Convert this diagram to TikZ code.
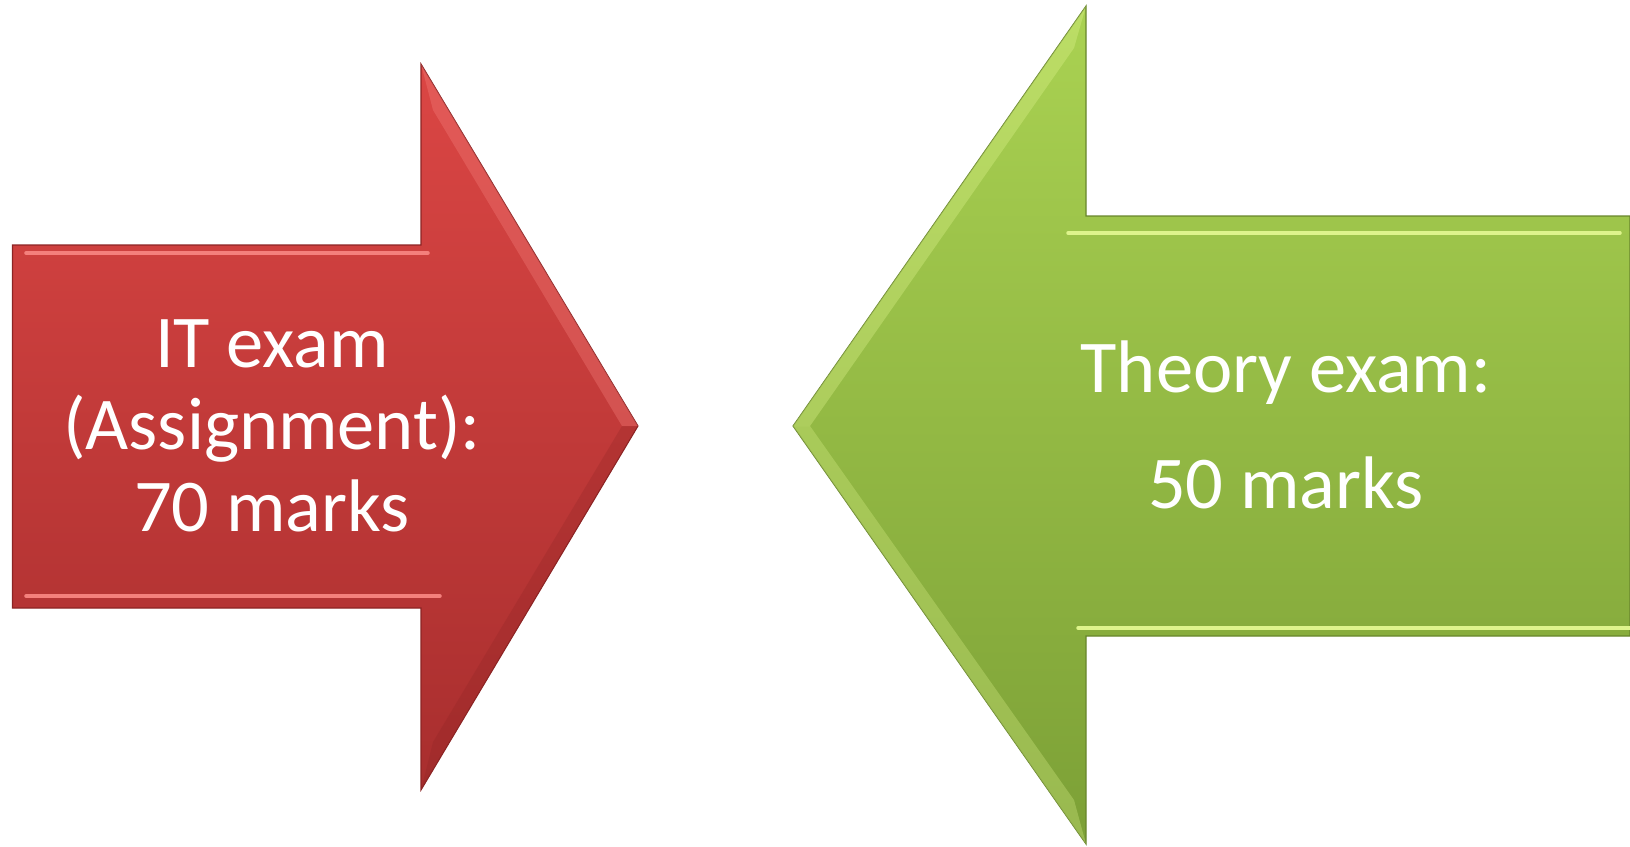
\documentclass[tikz,border=0pt]{standalone}
\usepackage{fontspec}
\setmainfont{Carlito}
\usepackage{tikz}
\usepackage{xcolor}
\definecolor{redtop}{RGB}{219,70,68}
\definecolor{redbot}{RGB}{168,46,46}
\definecolor{redline}{RGB}{140,36,36}
\definecolor{redhi}{RGB}{244,128,124}
\definecolor{greentop}{RGB}{170,210,82}
\definecolor{greenbot}{RGB}{124,160,54}
\definecolor{greenline}{RGB}{104,134,44}
\definecolor{greenhi}{RGB}{222,244,140}

\tikzset{
  label/.style={text=white, font=\fontsize{42.4}{46.7}\selectfont, align=center, inner sep=0pt},
  bevel/.style={line width=2pt, line cap=round}
}

\begin{document}
\begin{tikzpicture}[x=0.02cm, y=-0.02cm]
\useasboundingbox (0,0) rectangle (1630,846);

\def\redarrow{(12.5,245) -- (421,245) -- (421,64) -- (638,426) -- (421,790) -- (421,608) -- (12.5,608) -- cycle}
\def\greenarrow{(1630,216) -- (1086,216) -- (1086,6) -- (793,426) -- (1086,844) -- (1086,636) -- (1630,636) -- cycle}

% red arrow
\shade[top color=redtop, bottom color=redbot, draw=redline, line width=0.6pt] \redarrow;
\fill[redhi, opacity=0.35] (421,64) -- (638,426) -- (622,426) -- (433,110) -- cycle;
\fill[redline, opacity=0.25] (638,426) -- (421,790) -- (433,742) -- (622,426) -- cycle;
\draw[bevel, redhi] (26,253) -- (428,253);
\draw[bevel, redhi] (26,596) -- (440,596);

% green arrow
\shade[top color=greentop, bottom color=greenbot, draw=greenline, line width=0.6pt] \greenarrow;
\fill[greenhi, opacity=0.35] (1086,6) -- (793,426) -- (810,426) -- (1074,48) -- cycle;
\fill[greenhi, opacity=0.3] (793,426) -- (1086,844) -- (1074,800) -- (810,426) -- cycle;
\draw[bevel, greenhi] (1068,233) -- (1620,233);
\draw[bevel, greenhi] (1078,628) -- (1630,628);

\node[label] (itexam) at (272,426) {IT exam\\(Assignment):\\70 marks};
\node[label] (theory) at (1286,425) {Theory exam:\\[19pt]50 marks};
\end{tikzpicture}
\end{document}
